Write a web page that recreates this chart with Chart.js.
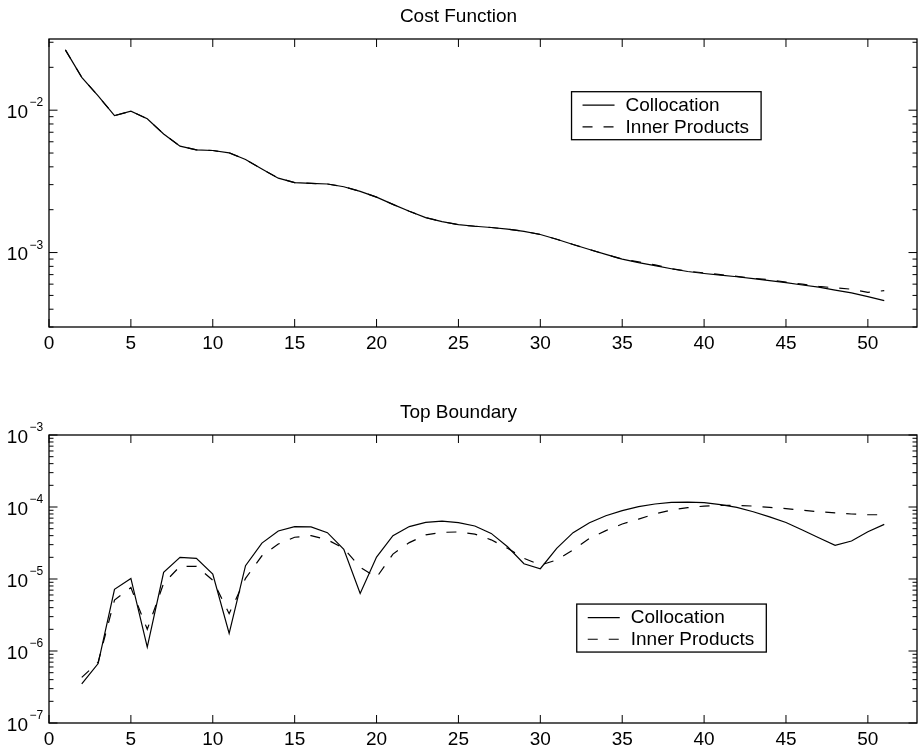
<!DOCTYPE html>
<html>
<head>
<meta charset="utf-8">
<title>Cost Function / Top Boundary</title>
<script src="https://cdn.jsdelivr.net/npm/chart.js@4.4.1/dist/chart.umd.min.js"></script>
<style>
    html, body { margin: 0; padding: 0; background: #fff; }
    .panel { position: relative; width: 922px; }
    canvas { display: block; }
</style>
</head>
<body>
<div class="panel" style="height:376px"><canvas id="cost-chart" width="922" height="376"></canvas></div>
<div class="panel" style="height:377px"><canvas id="top-chart" width="922" height="377"></canvas></div>
<script>
// ---- data ----
const costIter = [1, 2, 3, 4, 5, 6, 7, 8, 9, 10, 11, 12, 13, 14, 15, 16, 17, 18, 19, 20,
    21, 22, 23, 24, 25, 26, 27, 28, 29, 30, 31, 32, 33, 34, 35, 36, 37, 38, 39, 40,
    41, 42, 43, 44, 45, 46, 47, 48, 49, 50, 51];
const costCollocation = [0.0265, 0.0170, 0.0126, 0.00915, 0.00985, 0.0087, 0.0068, 0.00559, 0.00527, 0.00521,
    0.00502, 0.0045, 0.00386, 0.00333, 0.0031, 0.00306, 0.00303, 0.0029, 0.00269, 0.00245,
    0.00218, 0.00195, 0.00176, 0.00165, 0.00157, 0.00153, 0.0015, 0.00146, 0.00141, 0.00134,
    0.00124, 0.00114, 0.00105, 0.00097, 0.0009, 0.00085, 0.00081, 0.00077, 0.000736, 0.000713,
    0.000694, 0.000676, 0.000656, 0.000635, 0.000615, 0.000592, 0.000571, 0.000545, 0.000521, 0.00049,
    0.000459];
const costInner = [0.0265, 0.0170, 0.0126, 0.00915, 0.00985, 0.0087, 0.0068, 0.00559, 0.00527, 0.00521,
    0.00502, 0.0045, 0.00386, 0.00333, 0.0031, 0.00306, 0.00303, 0.0029, 0.00269, 0.00245,
    0.00218, 0.00195, 0.00176, 0.00165, 0.00157, 0.00153, 0.0015, 0.00146, 0.00141, 0.00134,
    0.00124, 0.00114, 0.00105, 0.00097, 0.0009, 0.00086, 0.00082, 0.00077, 0.00074, 0.00072,
    0.0007, 0.00068, 0.00066, 0.000645, 0.00062, 0.0006, 0.000578, 0.000565, 0.000553, 0.000525,
    0.00054];

const topIter = [2, 3, 4, 5, 6, 7, 8, 9, 10, 11, 12, 13, 14, 15, 16, 17, 18, 19, 20,
    21, 22, 23, 24, 25, 26, 27, 28, 29, 30, 31, 32, 33, 34, 35, 36, 37, 38, 39, 40,
    41, 42, 43, 44, 45, 46, 47, 48, 49, 50, 51];
const topCollocation = [3.5e-7, 6.7e-7, 7.2e-6, 1.02e-5, 1.13e-6, 1.24e-5, 2.0e-5, 1.93e-5, 1.17e-5,
    1.76e-6, 1.53e-5, 3.15e-5, 4.64e-5, 5.35e-5, 5.3e-5, 4.4e-5, 2.58e-5, 6.3e-6, 2.02e-5,
    4.0e-5, 5.35e-5, 6.1e-5, 6.35e-5, 6.08e-5, 5.45e-5, 4.3e-5, 2.8e-5, 1.63e-5, 1.39e-5,
    2.67e-5, 4.4e-5, 6.05e-5, 7.57e-5, 8.9e-5, 1.01e-4, 1.1e-4, 1.16e-4, 1.17e-4, 1.15e-4,
    1.08e-4, 9.9e-5, 8.6e-5, 7.3e-5, 6.1e-5, 4.8e-5, 3.75e-5, 2.94e-5, 3.37e-5, 4.54e-5,
    5.74e-5];
const topInner = [4.3e-7, 7.0e-7, 5.1e-6, 7.6e-6, 2.0e-6, 8.7e-6, 1.5e-5, 1.5e-5, 9.6e-6,
    3.3e-6, 1.02e-5, 2.1e-5, 3.06e-5, 3.8e-5, 4.0e-5, 3.5e-5, 2.67e-5, 1.45e-5, 1.05e-5,
    2.22e-5, 3.2e-5, 4.1e-5, 4.45e-5, 4.5e-5, 4.2e-5, 3.5e-5, 2.67e-5, 1.94e-5, 1.56e-5,
    1.84e-5, 2.53e-5, 3.67e-5, 4.7e-5, 5.8e-5, 6.8e-5, 8.0e-5, 9.1e-5, 9.8e-5, 1.03e-4,
    1.05e-4, 1.05e-4, 1.03e-4, 9.9e-5, 9.5e-5, 9.0e-5, 8.6e-5, 8.3e-5, 8.0e-5, 7.8e-5,
    7.8e-5];

const seriesNames = ['Collocation', 'Inner Products'];
const xTickValues = [0, 5, 10, 15, 20, 25, 30, 35, 40, 45, 50];
const costDecades = [-3, -2];
const topDecades = [-7, -6, -5, -4, -3];

const FONT = "'Liberation Sans', Arial, Helvetica, sans-serif";

// box, inward ticks, 10^n labels and boxed legend, drawn the matlab way
const matlabFrame = {
    id: 'matlabFrame',
    afterDatasetsDraw(chart, args, opts) {
        const ctx = chart.ctx;
        const area = chart.chartArea;
        const xs = chart.scales.x;
        const ys = chart.scales.y;
        ctx.save();

        ctx.strokeStyle = '#000';
        ctx.lineWidth = 1.3;
        ctx.strokeRect(area.left, area.top, area.right - area.left, area.bottom - area.top);

        ctx.lineWidth = 1;
        ctx.beginPath();
        xs.ticks.forEach(t => {
            const px = xs.getPixelForValue(t.value);
            ctx.moveTo(px, area.bottom);
            ctx.lineTo(px, area.bottom - 8);
            ctx.moveTo(px, area.top);
            ctx.lineTo(px, area.top + 8);
        });
        const eLo = Math.floor(Math.log10(ys.min));
        const eHi = Math.ceil(Math.log10(ys.max));
        for (let e = eLo; e <= eHi; e++) {
            for (let k = 1; k <= 9; k++) {
                const v = k * Math.pow(10, e);
                if (v < ys.min * 0.999 || v > ys.max * 1.001) continue;
                const py = ys.getPixelForValue(v);
                const len = k === 1 ? 8.5 : 4.5;
                ctx.moveTo(area.left, py);
                ctx.lineTo(area.left + len, py);
                ctx.moveTo(area.right, py);
                ctx.lineTo(area.right - len, py);
            }
        }
        ctx.stroke();

        // y labels: 10 with a raised exponent
        ctx.fillStyle = '#000';
        ctx.textBaseline = 'alphabetic';
        opts.decades.forEach(e => {
            const py = ys.getPixelForValue(Math.pow(10, e));
            ctx.font = '19px ' + FONT;
            ctx.textAlign = 'right';
            ctx.fillText('10', area.left - 21, py + 7.5);
            ctx.font = '12px ' + FONT;
            ctx.textAlign = 'left';
            ctx.fillText('\u2212' + Math.abs(e), area.left - 19.5, py - 4);
        });

        // legend box
        const lx = area.left + opts.legendAt[0] * (area.right - area.left);
        const ly = area.top + opts.legendAt[1] * (area.bottom - area.top);
        ctx.font = '19px ' + FONT;
        const textW = Math.max(...chart.data.datasets.map(d => ctx.measureText(d.label).width));
        const boxW = 54 + textW + 12;
        const boxH = 48;
        ctx.fillStyle = '#fff';
        ctx.fillRect(lx, ly, boxW, boxH);
        ctx.lineWidth = 1.3;
        ctx.strokeRect(lx, ly, boxW, boxH);
        chart.data.datasets.forEach((d, i) => {
            const ry = ly + 13.5 + i * 21.7;
            ctx.lineWidth = d.borderWidth;
            ctx.setLineDash(d.borderDash || []);
            ctx.beginPath();
            ctx.moveTo(lx + 11, ry);
            ctx.lineTo(lx + 43, ry);
            ctx.stroke();
            ctx.setLineDash([]);
            ctx.fillStyle = '#000';
            ctx.textAlign = 'left';
            ctx.textBaseline = 'middle';
            ctx.fillText(d.label, lx + 54, ry + 0.5);
        });
        ctx.restore();
    }
};

function makePanel(canvasId, title, iters, solid, dashed, yMin, yMax, decades, legendAt, titlePad, xHeight) {
    const toPoints = (vals) => iters.map((x, i) => ({ x: x, y: vals[i] }));
    return new Chart(document.getElementById(canvasId), {
        type: 'line',
        data: {
            datasets: [
                {
                    label: seriesNames[0],
                    data: toPoints(solid),
                    borderColor: '#000',
                    borderWidth: 1.2,
                    pointRadius: 0,
                    tension: 0
                },
                {
                    label: seriesNames[1],
                    data: toPoints(dashed),
                    borderColor: '#000',
                    borderWidth: 1.2,
                    borderDash: [10, 11],
                    pointRadius: 0,
                    tension: 0
                }
            ]
        },
        options: {
            responsive: false,
            animation: false,
            layout: { padding: { left: 0, right: 5, top: 0, bottom: 0 } },
            plugins: {
                legend: { display: false },
                tooltip: { enabled: false },
                title: {
                    display: true,
                    text: title,
                    color: '#000',
                    font: { family: FONT, size: 19, weight: 'normal', lineHeight: 1.2 },
                    padding: titlePad
                },
                matlabFrame: { decades: decades, legendAt: legendAt }
            },
            scales: {
                x: {
                    type: 'linear',
                    min: 0,
                    max: 53,
                    afterBuildTicks: (scale) => {
                        scale.ticks = xTickValues.map(v => ({ value: v }));
                    },
                    afterFit: (scale) => { scale.height = xHeight; },
                    grid: { display: false, drawTicks: false },
                    border: { display: false },
                    ticks: {
                        color: '#000',
                        padding: 5,
                        maxRotation: 0,
                        autoSkip: false,
                        font: { family: FONT, size: 19 }
                    }
                },
                y: {
                    type: 'logarithmic',
                    min: yMin,
                    max: yMax,
                    afterFit: (scale) => { scale.width = 49; },
                    grid: { display: false, drawTicks: false },
                    border: { display: false },
                    ticks: { display: false }
                }
            }
        },
        plugins: [matlabFrame]
    });
}

makePanel('cost-chart', 'Cost Function', costIter, costCollocation, costInner,
    Math.pow(10, -3.5), Math.pow(10, -1.5), costDecades, [0.602, 0.183],
    { top: 5, bottom: 11.2 }, 49);

makePanel('top-chart', 'Top Boundary', topIter, topCollocation, topInner,
    1e-7, 1e-3, topDecades, [0.608, 0.587],
    { top: 25.1, bottom: 11.1 }, 30);
</script>
</body>
</html>
